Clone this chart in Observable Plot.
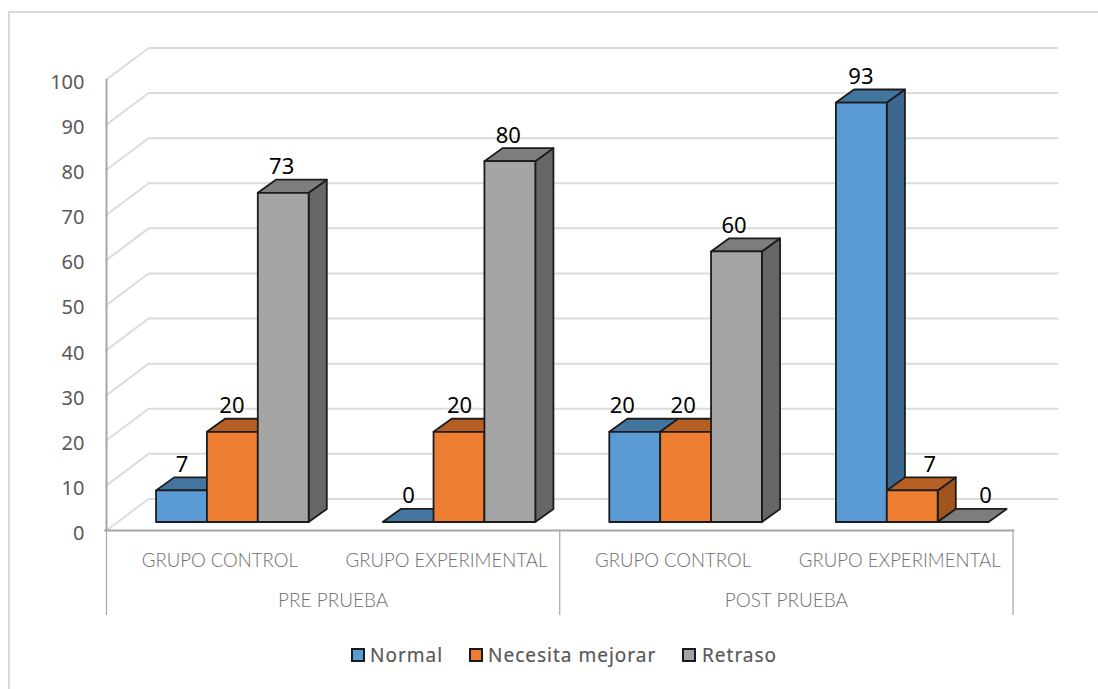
<!DOCTYPE html>
<html><head><meta charset="utf-8">
<script src="https://cdn.jsdelivr.net/npm/d3@7"></script>
<script src="https://cdn.jsdelivr.net/npm/@observablehq/plot@0.6"></script>
<style>
html,body{margin:0;padding:0;background:#fff;width:1098px;height:689px;overflow:hidden}
#frame{position:absolute;left:8px;top:11px;width:1100px;height:680px;border:2px solid #d9d9d9;box-sizing:border-box}
#chart{position:absolute;left:0;top:0}
#legend{position:absolute;left:0;top:640px;height:30px;width:1098px;font:19px "Noto Sans",sans-serif;color:#595959;letter-spacing:1px;-webkit-text-stroke:0.2px #595959}
#legend span{position:absolute;top:2px;line-height:26px;white-space:nowrap}
#legend i{position:absolute;top:8px;width:10px;height:10px;border:2px solid #1a1a1a;box-sizing:content-box}
</style></head><body>
<div id="frame"></div><div id="chart"></div><div id="legend"></div>
<script>
const groups = ["PRE PRUEBA", "POST PRUEBA"];
const categories = ["GRUPO CONTROL", "GRUPO EXPERIMENTAL", "GRUPO CONTROL", "GRUPO EXPERIMENTAL"];
const seriesNames = ["Normal", "Necesita mejorar", "Retraso"];
const normal = [7, 0, 20, 93];
const mejorar = [20, 20, 20, 7];
const retraso = [73, 80, 60, 0];
const yTicks = [0,10,20,30,40,50,60,70,80,90,100];

const faces = [
  {front:"#5B9BD5", top:"#44759F", side:"#3B6791"},
  {front:"#ED7D31", top:"#B55F25", side:"#A0541F"},
  {front:"#A5A5A5", top:"#7D7D7D", side:"#676767"}
];
const values = [normal, mejorar, retraso];

// geometry in data units
const barInset = 0.2208, barW = 0.2245, barDx = 0.08, barDy = 2.9, barBase = 1.77;
const wallDx = 0.186, wallEnd = 4.197, wallDy = 7;
// hand-placed data labels in the original: shift per series/category, in category units
const labelShift = [
  [0, 0, -0.057, -0.004],
  [-0.004, 0, -0.013, 0.075],
  [-0.009, -0.009, -0.013, 0.097]
];

const grid = yTicks.flatMap(t => [
  {t, x:0, y:t},
  {t, x:wallDx, y:t+wallDy},
  {t, x:wallEnd, y:t+wallDy}
]);

const marks = [
  Plot.line(grid, {x:"x", y:"y", z:"t", stroke:"#dcdcdc", strokeWidth:2}),
  Plot.ruleX([0], {y1:0, y2:100, stroke:"#a6a6a6", strokeWidth:2})
];

categories.forEach((c, i) => {
  values.forEach((vals, s) => {
    const l = i + barInset + s*barW, r = l + barW, v = vals[i], f = faces[s];
    const b = barBase, t = barBase + v;
    const st = {stroke:"#1c1c1c", strokeWidth:1.8, strokeLinejoin:"round"};
    if (v > 0) marks.push(Plot.areaY([{x:r,y1:b,y2:t},{x:r+barDx,y1:b+barDy,y2:t+barDy}],
      {x:"x", y1:"y1", y2:"y2", fill:f.side, ...st}));
    marks.push(Plot.areaX([{y:t,x1:l,x2:r},{y:t+barDy,x1:l+barDx,x2:r+barDx}],
      {y:"y", x1:"x1", x2:"x2", fill:f.top, ...st}));
    if (v > 0) marks.push(Plot.rect([{x1:l,x2:r,y1:b,y2:t}],
      {x1:"x1", x2:"x2", y1:"y1", y2:"y2", fill:f.front, ...st}));
  });
});

const labels = categories.flatMap((c,i)=> values.map((vals,s)=>({
  x: i + barInset + (s+0.5)*barW + labelShift[s][i], y: barBase + vals[i] + barDy, v: vals[i]
})));

marks.push(
  Plot.text(labels, {x:"x", y:"y", text:d=>String(d.v), dy:-13, fill:"#000", fontSize:22, fontFamily:"Noto Sans"}),
  Plot.text(yTicks, {x:()=>0, y:d=>d, text:d=>String(d), dx:-22, dy:3, textAnchor:"end", fill:"#595959", fontSize:20, fontFamily:"Noto Sans"}),
  Plot.ruleY([0], {x1:-0.008, x2:4.008, stroke:"#a6a6a6", strokeWidth:2}),
  Plot.ruleX([0,2,4], {y1:0, y2:-18.85, stroke:"#a6a6a6", strokeWidth:1.2}),
  Plot.text(categories, {x:(d,i)=>i+0.5, y:()=>0, text:d=>d, dy:30.5, fill:"#6e6e6e", fontSize:18.6, fontFamily:"Lato", fontWeight:300}),
  Plot.text(groups, {x:(d,i)=>i*2+1, y:()=>0, text:d=>d, dy:70.5, fill:"#6e6e6e", fontSize:19, fontFamily:"Lato", fontWeight:300})
);

const plot = Plot.plot({
  width:1098, height:640,
  margin:0,
  x:{domain:[0,4], range:[106,1012.5], axis:null},
  y:{domain:[0,100], range:[530,79], axis:null},
  style:{background:"transparent"},
  marks
});
document.getElementById("chart").append(plot);

const lx = [[351,370],[469,488],[682,702]];
const leg = document.getElementById("legend");
seriesNames.forEach((n,i)=>{
  const sw=document.createElement("i");
  sw.style.left=lx[i][0]+"px"; sw.style.background=faces[i].front;
  const tx=document.createElement("span");
  tx.style.left=lx[i][1]+"px"; tx.textContent=n;
  leg.append(sw,tx);
});
</script></body></html>
